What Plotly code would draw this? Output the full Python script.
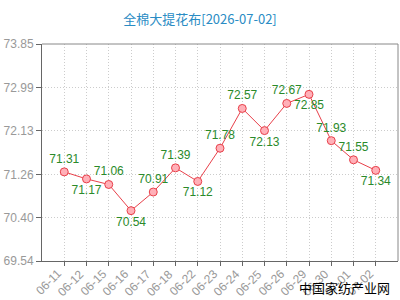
import plotly.graph_objects as go

dates = ["06-11", "06-12", "06-15", "06-16", "06-17", "06-18", "06-22", "06-23",
         "06-24", "06-25", "06-26", "06-29", "06-30", "07-01", "07-02"]
values = [71.31, 71.17, 71.06, 70.54, 70.91, 71.39, 71.12, 71.78,
          72.57, 72.13, 72.67, 72.85, 71.93, 71.55, 71.34]
label_pos = ["top center", "bottom center", "top center", "bottom center", "top center",
             "top center", "bottom center", "top center", "top center", "bottom center",
             "top center", "bottom center", "top center", "top center", "bottom center"]
y_ticks = [69.54, 70.40, 71.26, 72.13, 72.99, 73.85]
title = "全棉大提花布[2026-07-02]"
watermark = "中国家纺产业网"

x_idx = list(range(len(dates)))

fig = go.Figure()
fig.add_trace(go.Scatter(
    x=x_idx, y=values, mode="lines+markers+text",
    line=dict(color="#e8404a", width=1),
    marker=dict(symbol="circle", size=8, color="#ffb0b8",
                line=dict(color="#e8404a", width=1)),
    text=[f"{v:.2f}" for v in values], textposition=label_pos,
    textfont=dict(family="Arial, Liberation Sans", size=12, color="#2a8a2a"),
    cliponaxis=False, hoverinfo="skip", showlegend=False,
))

tick_annotations = [
    dict(text=d, xref="x", yref="paper", x=i, y=0, xanchor="right", yanchor="top",
         xshift=3, yshift=-3, textangle=-45, showarrow=False,
         font=dict(family="Arial, Liberation Sans", size=12, color="#999999"))
    for i, d in zip(x_idx, dates)
]

fig.update_layout(
    width=400, height=300,
    margin=dict(l=42, r=2, t=44, b=39),
    paper_bgcolor="white", plot_bgcolor="white",
    title=dict(text=title, x=0.5, xanchor="center", y=1 - 19 / 300, yanchor="middle",
               font=dict(family="Noto Sans CJK SC", size=13, color="#2a8cc4")),
    font=dict(family="Arial, Liberation Sans"),
    xaxis=dict(
        range=[-1, len(dates)], tickmode="array", tickvals=x_idx, showticklabels=False,
        automargin=False,
        showgrid=True, gridcolor="#cccccc", griddash="1px,2px", gridwidth=1,
        showline=True, linecolor="#666666", linewidth=1, mirror=False,
        ticks="outside", ticklen=4, tickcolor="#666666", zeroline=False,
    ),
    yaxis=dict(
        range=[69.54, 73.85], tickmode="array", tickvals=y_ticks,
        ticktext=[f"{v:.2f}" for v in y_ticks], automargin=False,
        tickfont=dict(size=12, color="#999999"),
        showgrid=True, gridcolor="#cccccc", griddash="1px,2px", gridwidth=1,
        showline=True, linecolor="#666666", linewidth=1,
        ticks="outside", ticklen=5, tickcolor="#666666", zeroline=False,
    ),
    shapes=[
        dict(type="line", xref="paper", yref="paper", x0=0, x1=1, y0=1, y1=1,
             line=dict(color="#888888", width=1)),
        dict(type="line", xref="paper", yref="paper", x0=1, x1=1, y0=0, y1=1,
             line=dict(color="#888888", width=1)),
    ],
    annotations=tick_annotations + [
        dict(text=watermark, xref="paper", yref="paper",
             x=(392 - 42) / (400 - 44), y=-(287 - 261) / (300 - 83),
             xanchor="right", yanchor="middle", showarrow=False,
             font=dict(family="Noto Sans CJK SC", size=13, color="#000000")),
    ],
)

fig.write_html("out.html")
